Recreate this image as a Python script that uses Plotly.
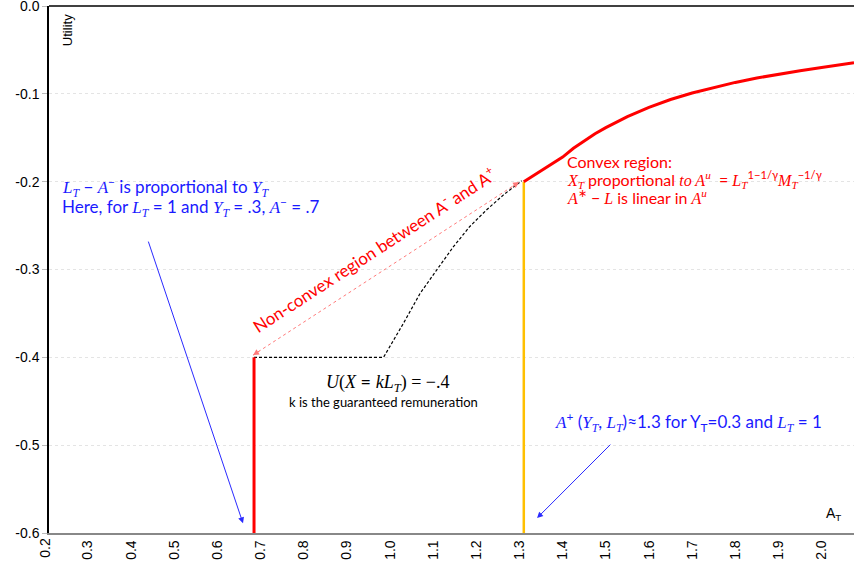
import plotly.graph_objects as go

# ---------------- data ----------------
x_ticks = [0.3, 0.4, 0.5, 0.6, 0.7, 0.8, 0.9, 1.0, 1.1, 1.2, 1.3, 1.4, 1.5, 1.6, 1.7, 1.8, 1.9, 2.0]
x_tick_labels = ["%.1f" % v for v in x_ticks]
first_tick = 0.2
x_range = [0.21, 2.075]
y_ticks = [0.0, -0.1, -0.2, -0.3, -0.4, -0.5, -0.6]

# convex (red) utility curve beyond A+
convex_x = [1.31, 1.355, 1.40, 1.425, 1.45, 1.475, 1.50, 1.55, 1.60, 1.65, 1.70, 1.75, 1.80, 1.85, 1.90, 1.95, 2.00, 2.075]
convex_y = [-0.200, -0.1865, -0.172, -0.162, -0.1535, -0.1455, -0.1385, -0.1260, -0.1155, -0.1065, -0.0990, -0.0927, -0.0870, -0.0820, -0.0776, -0.0736, -0.0700, -0.0645]

# red vertical jump at A-
aminus_x = [0.685, 0.685]
aminus_y = [-0.6, -0.4]

# orange vertical at A+
aplus_x = [1.31, 1.31]
aplus_y = [-0.6, -0.2]

# black dashed non-convex utility
nonconvex_x = [0.685, 0.985, 1.031, 1.070, 1.108, 1.147, 1.185, 1.224, 1.263, 1.305]
nonconvex_y = [-0.400, -0.400, -0.3614, -0.327, -0.3007, -0.274, -0.251, -0.232, -0.215, -0.199]

# red dotted double arrow (A- to A+)
span_x = [0.6827, 1.299]
span_y = [-0.3975, -0.2005]

# blue arrows (tail, head)
arrow1 = (0.439, -0.2665, 0.6595, -0.589)
arrow2 = (1.514, -0.4977, 1.3407, -0.583)

# ---------------- figure ----------------
SANS = "Lato, 'Open Sans', sans-serif"
AX = "'Liberation Sans', Arial, sans-serif"
BLUE = "#1a1aff"
RED = "#ff0000"

def m(s):
    return '<span style="font-family:Liberation Serif"><i>%s</i></span>' % s

fig = go.Figure()

fig.add_trace(go.Scatter(x=nonconvex_x, y=nonconvex_y, mode="lines",
                         line=dict(color="black", width=1.2, dash="3px,2px"),
                         hoverinfo="skip"))
fig.add_trace(go.Scatter(x=span_x, y=span_y, mode="lines",
                         line=dict(color="#ff7a7a", width=1, dash="dot"), hoverinfo="skip"))
fig.add_trace(go.Scatter(x=aplus_x, y=aplus_y, mode="lines",
                         line=dict(color="#ffc000", width=2.5), hoverinfo="skip"))
fig.add_trace(go.Scatter(x=aminus_x, y=aminus_y, mode="lines",
                         line=dict(color=RED, width=3), hoverinfo="skip"))
fig.add_trace(go.Scatter(x=convex_x, y=convex_y, mode="lines",
                         line=dict(color=RED, width=3), hoverinfo="skip"))

ann = []

def text(x, y, t, size, color, family=SANS, xanchor="left", angle=0):
    ann.append(dict(x=x, y=y, xref="x", yref="y", text=t, showarrow=False,
                    font=dict(size=size, color=color, family=family),
                    xanchor=xanchor, yanchor="middle", textangle=angle))

# blue annotation top-left
text(0.2355, -0.206, m("L<sub>T</sub>") + " − " + m("A") + "<sup>−</sup> is proportional to " + m("Y<sub>T</sub>"), 17, BLUE)
text(0.2355, -0.229, "Here, for " + m("L<sub>T</sub>") + " = 1 and " + m("Y<sub>T</sub>") + " = .3, " + m("A") + "<sup>−</sup> = .7", 17, BLUE)

# red convex region text
text(1.405, -0.1765, "Convex region:", 16, RED)
text(1.405, -0.197, m("X<sub>T</sub>") + " proportional " + m("to A<sup>u</sup>") + "  = "
     + m("L<sub>T</sub>") + "<sup>1−1/γ</sup>" + m("M<sub>T</sub>") + "<sup>−1/γ</sup>", 16, RED)
text(1.405, -0.2164, m("A") + "<sup>∗</sup> − " + m("L") + " is linear in " + m("A<sup>u</sup>"), 16, RED)

# black guaranteed remuneration text
text(0.995, -0.429, m("U") + '<span style="font-family:Liberation Serif">(</span>' + m("X") + " = " + m("kL<sub>T</sub>")
     + '<span style="font-family:Liberation Serif">) = −.4</span>', 18, "black", xanchor="center")
text(0.984, -0.451, "k is the guaranteed remuneration", 13, "black", xanchor="center")

# blue A+ text
text(1.378, -0.474, m("A") + "<sup>+</sup> (" + m("Y<sub>T</sub>") + ", " + m("L<sub>T</sub>") + ")≈1.3 for Y<sub>T</sub>=0.3 and "
     + m("L<sub>T</sub>") + " = 1", 17, BLUE)

# rotated non-convex label
text(0.962, -0.277, "Non-convex region between A<sup>-</sup> and A<sup>+</sup>", 17, RED, xanchor="center", angle=-33)

# blue arrows
for (tx, ty, hx, hy) in (arrow1, arrow2):
    ann.append(dict(x=hx, y=hy, ax=tx, ay=ty, xref="x", yref="y", axref="x", ayref="y",
                    text="", showarrow=True, arrowhead=2, arrowsize=1.2, arrowwidth=1, arrowcolor="#2a2aff"))

# red arrowheads of the dotted span
dx = span_x[1] - span_x[0]
dy = span_y[1] - span_y[0]
f = 0.03
ann.append(dict(x=span_x[0], y=span_y[0], ax=span_x[0] + f * dx, ay=span_y[0] + f * dy,
                xref="x", yref="y", axref="x", ayref="y", text="", showarrow=True,
                arrowhead=2, arrowsize=1.2, arrowwidth=1, arrowcolor="#ff7a7a"))
ann.append(dict(x=span_x[1], y=span_y[1], ax=span_x[1] - f * dx, ay=span_y[1] - f * dy,
                xref="x", yref="y", axref="x", ayref="y", text="", showarrow=True,
                arrowhead=2, arrowsize=1.2, arrowwidth=1, arrowcolor="#ff7a7a"))

# axis titles
ann.append(dict(x=0.253, y=-0.028, xref="x", yref="y", text="Utility", showarrow=False,
                textangle=-90, font=dict(size=13, color="black", family=AX)))
ann.append(dict(x=2.027, y=-0.578, xref="x", yref="y", text="A<sub>T</sub>", showarrow=False,
                font=dict(size=14, color="black", family=AX)))

# first tick label, sitting just left of the axis line (outside the plotted range)
ann.append(dict(x=(first_tick - x_range[0]) / (x_range[1] - x_range[0]), y=0, xref="paper", yref="paper",
                text="%.1f" % first_tick, showarrow=False,
                textangle=-90, xanchor="center", yanchor="top", yshift=-3,
                font=dict(size=14, color="black", family=AX)))

fig.update_layout(
    width=854, height=571,
    margin=dict(l=49, r=0, t=6, b=38),
    paper_bgcolor="white", plot_bgcolor="white",
    showlegend=False,
    annotations=ann,
    shapes=[dict(type="line", xref="paper", yref="paper", x0=0, x1=1, y0=1, y1=1,
                 line=dict(color="black", width=1.5))],
    xaxis=dict(range=x_range, tickvals=x_ticks, ticktext=x_tick_labels, tickangle=-90,
               showgrid=False, zeroline=False, showline=True, linecolor="#888888", linewidth=1.5,
               ticks="", automargin=False, ticklabeloverflow="allow",
               tickfont=dict(size=14, color="black", family=AX)),
    yaxis=dict(range=[-0.6, 0.0], tickvals=y_ticks, ticktext=["%.1f" % v for v in y_ticks],
               showgrid=True, gridcolor="#e4e4e4", griddash="dot", gridwidth=1,
               zeroline=False, showline=True, linecolor="black", linewidth=1.5,
               ticks="outside", ticklen=5, tickcolor="#bbbbbb", automargin=False,
               ticklabeloverflow="allow",
               tickfont=dict(size=14, color="black", family=AX)),
)

fig.write_html("out.html", config={"displayModeBar": False},
               post_script="document.body.style.margin='0';document.body.style.overflow='hidden';")
